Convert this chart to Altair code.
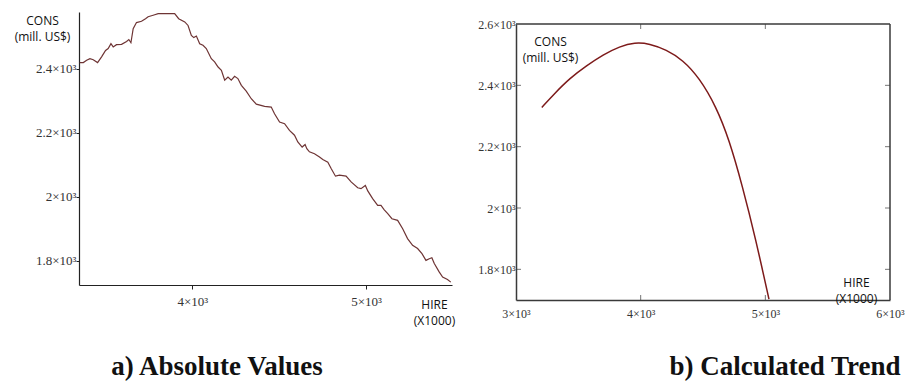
import altair as alt
import pandas as pd

# ---- Observed series: HIRE (x1000) vs CONS (mill. US$) ----
hire_abs = [3351, 3372, 3391, 3410, 3429, 3454, 3477, 3500, 3515, 3531,
            3544, 3563, 3592, 3621, 3634, 3646, 3659, 3678, 3707, 3730,
            3745, 3774, 3803, 3898, 3921, 3956, 3975, 3994, 4008, 4023,
            4042, 4061, 4080, 4109, 4128, 4148, 4167, 4186, 4205, 4224,
            4243, 4262, 4282, 4310, 4339, 4368, 4416, 4454, 4473, 4502,
            4531, 4559, 4588, 4607, 4632, 4649, 4659, 4674, 4703, 4732,
            4751, 4780, 4799, 4824, 4847, 4885, 4914, 4952, 4971, 4996,
            5010, 5038, 5067, 5086, 5105, 5125, 5149, 5182, 5211, 5239,
            5268, 5297, 5322, 5345, 5364, 5379, 5393, 5421, 5441, 5469,
            5488]
cons_abs = [2420, 2420, 2427, 2432, 2429, 2420, 2438, 2458, 2464, 2479,
            2469, 2476, 2477, 2486, 2492, 2482, 2526, 2545, 2549, 2557,
            2563, 2568, 2573, 2573, 2557, 2547, 2536, 2505, 2498, 2503,
            2479, 2474, 2464, 2432, 2422, 2406, 2396, 2365, 2375, 2365,
            2377, 2370, 2349, 2331, 2307, 2290, 2283, 2281, 2260, 2234,
            2229, 2208, 2193, 2172, 2156, 2164, 2151, 2141, 2135, 2125,
            2117, 2109, 2089, 2065, 2068, 2065, 2047, 2029, 2026, 2036,
            2019, 1995, 1974, 1974, 1960, 1948, 1932, 1927, 1901, 1870,
            1849, 1839, 1823, 1802, 1807, 1810, 1792, 1766, 1750, 1742,
            1734]

# ---- Fitted trend ----
hire_trend = [3207, 3301, 3434, 3566, 3699, 3832, 3952, 4072, 4205, 4338,
              4471, 4604, 4710, 4816, 4923, 5029]
cons_trend = [2328, 2370, 2424, 2464, 2500, 2527, 2540, 2536, 2516, 2483,
              2424, 2332, 2223, 2072, 1898, 1703]

# ---- Axes ----
abs_x_domain = [3347, 5495]
abs_y_domain = [1725, 2578]
abs_x_ticks = [4000, 5000]
abs_y_ticks = [1800, 2000, 2200, 2400]

trend_x_domain = [3000, 6000]
trend_y_domain = [1700, 2600]
trend_x_ticks = [3000, 4000, 5000, 6000]
trend_y_ticks = [1800, 2000, 2200, 2400, 2600]
trend_x_inner = [4000, 5000]
trend_y_inner = [1800, 2000, 2200, 2400]

y_title = ["CONS", "(mill. US$)"]
x_title = ["HIRE", "(X1000)"]
captions = ["a) Absolute Values", "b) Calculated Trend"]

sci_label = "datum.value / 1000 + '\u00d710\u00b3'"
serif = "Liberation Serif"
sans = "Open Sans"
axis_col = "#222222"
frame_col = "#3a3a3a"

W, H = 908, 387


def ax_scale():
    return alt.Scale(domain=abs_x_domain, range=[79, 452], nice=False, zero=False)


def ay_scale():
    return alt.Scale(domain=abs_y_domain, range=[285, 12], nice=False, zero=False)


def bx_scale():
    return alt.Scale(domain=trend_x_domain, range=[516, 890], nice=False, zero=False)


def by_scale():
    return alt.Scale(domain=trend_y_domain, range=[300, 24], nice=False, zero=False)


# ---------------- panel a: observed values ----------------
abs_df = pd.DataFrame({"hire": hire_abs, "cons": cons_abs})
panel_a = alt.Chart(abs_df).mark_line(color="#6e3434", strokeWidth=1.2).encode(
    x=alt.X("hire:Q", scale=ax_scale(), axis=alt.Axis(
        orient="bottom", offset=-(H - 285), values=abs_x_ticks, labelExpr=sci_label,
        labelFont=serif, labelFontSize=13, labelColor="#333", labelPadding=6,
        labelFlush=False, tickSize=4, tickColor=axis_col, domainColor=axis_col,
        domainWidth=1.2, grid=False,
        title=x_title, titleFont=sans, titleFontSize=12, titleFontWeight="normal",
        titleColor="#111", titleAngle=0, titleAlign="center", titleBaseline="middle",
        titleLineHeight=16, titleX=434, titleY=19)),
    y=alt.Y("cons:Q", scale=ay_scale(), axis=alt.Axis(
        orient="left", offset=-79, values=abs_y_ticks, labelExpr=sci_label,
        labelFont=serif, labelFontSize=13, labelColor="#333", labelPadding=0,
        tickSize=3, tickColor=axis_col, domainColor=axis_col, domainWidth=1.2,
        grid=False,
        title=y_title, titleFont=sans, titleFontSize=12, titleFontWeight="normal",
        titleColor="#111", titleAngle=0, titleAlign="center", titleBaseline="middle",
        titleLineHeight=16, titleX=-37, titleY=20)),
)

# ---------------- panel b: fitted trend ----------------
trend_df = pd.DataFrame({"hire": hire_trend, "cons": cons_trend})
trend_line = alt.Chart(trend_df).mark_line(
    color="#7d1a1a", strokeWidth=1.5, interpolate="basis").encode(
    x=alt.X("hire:Q", scale=bx_scale(), axis=alt.Axis(
        orient="bottom", offset=-(H - 300), values=trend_x_ticks, labelExpr=sci_label,
        labelFont=serif, labelFontSize=12, labelColor="#333", labelPadding=8,
        labelFlush=False, ticks=False, domainColor=frame_col, domainWidth=1.5,
        grid=False,
        title=x_title, titleFont=sans, titleFontSize=12, titleFontWeight="normal",
        titleColor="#111", titleAngle=0, titleAlign="center", titleBaseline="middle",
        titleLineHeight=16, titleX=856, titleY=-18)),
    y=alt.Y("cons:Q", scale=by_scale(), axis=alt.Axis(
        orient="left", offset=-516, values=trend_y_ticks, labelExpr=sci_label,
        labelFont=serif, labelFontSize=12, labelColor="#333", labelPadding=1,
        ticks=False, domainColor=frame_col, domainWidth=1.5, grid=False,
        title=y_title, titleFont=sans, titleFontSize=12, titleFontWeight="normal",
        titleColor="#111", titleAngle=0, titleAlign="center", titleBaseline="middle",
        titleLineHeight=16, titleX=34, titleY=41)),
)

# top and right edges of the frame
top_edge = alt.Chart(pd.DataFrame({
    "x0": [trend_x_domain[0]], "x1": [trend_x_domain[1]], "y": [trend_y_domain[1]]
})).mark_rule(color=frame_col, strokeWidth=1.5).encode(
    x=alt.X("x0:Q", scale=bx_scale(), axis=None), x2="x1:Q",
    y=alt.Y("y:Q", scale=by_scale(), axis=None))
right_edge = alt.Chart(pd.DataFrame({
    "x": [trend_x_domain[1]], "y0": [trend_y_domain[0]], "y1": [trend_y_domain[1]]
})).mark_rule(color=frame_col, strokeWidth=1.5).encode(
    x=alt.X("x:Q", scale=bx_scale(), axis=None),
    y=alt.Y("y0:Q", scale=by_scale(), axis=None), y2="y1:Q")


# inward-pointing tick marks on all four sides of the frame
def x_ticks(y_val, shift):
    df = pd.DataFrame({"v": trend_x_inner, "edge": [y_val] * len(trend_x_inner)})
    return alt.Chart(df).mark_tick(
        orient="vertical", size=5, thickness=1, color=frame_col, yOffset=shift
    ).encode(x=alt.X("v:Q", scale=bx_scale(), axis=None),
             y=alt.Y("edge:Q", scale=by_scale(), axis=None))


def y_ticks(x_val, shift):
    df = pd.DataFrame({"v": trend_y_inner, "edge": [x_val] * len(trend_y_inner)})
    return alt.Chart(df).mark_tick(
        orient="horizontal", size=5, thickness=1, color=frame_col, xOffset=shift
    ).encode(y=alt.Y("v:Q", scale=by_scale(), axis=None),
             x=alt.X("edge:Q", scale=bx_scale(), axis=None))


# ---------------- captions ----------------
def caption(text, cx):
    return alt.Chart(pd.DataFrame({"caption": [text]})).mark_text(
        font=serif, fontSize=27, fontWeight="bold", color="#111",
        align="center", baseline="alphabetic"
    ).encode(text="caption:N", x=alt.value(cx), y=alt.value(375))


chart = alt.layer(
    panel_a, trend_line, top_edge, right_edge,
    x_ticks(trend_y_domain[0], -2.5), x_ticks(trend_y_domain[1], 2.5),
    y_ticks(trend_x_domain[0], 2.5), y_ticks(trend_x_domain[1], -2.5),
    caption(captions[0], 217), caption(captions[1], 785),
).resolve_scale(
    x="independent", y="independent"
).properties(
    width=W, height=H, padding=0, autosize=alt.AutoSizeParams(type="none"),
    background="white"
).configure_view(stroke=None)

chart.save("out.html", embed_options={"renderer": "svg", "actions": False})
